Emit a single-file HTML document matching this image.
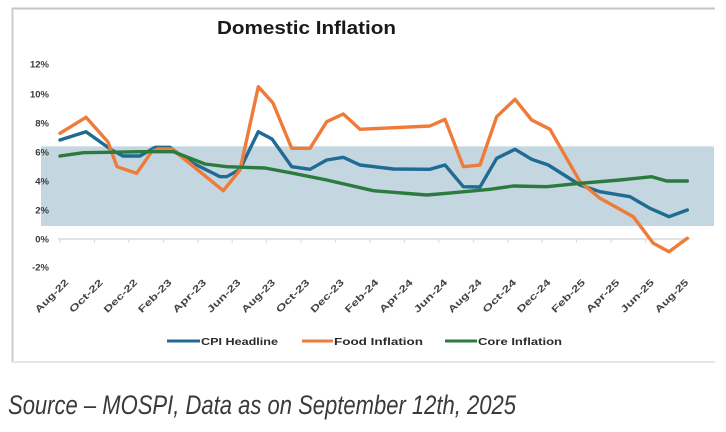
<!DOCTYPE html>
<html>
<head>
<meta charset="utf-8">
<style>
html,body{margin:0;padding:0;background:#fff;}
body{width:726px;height:432px;overflow:hidden;}
svg{display:block;}
</style>
</head>
<body>
<svg width="726" height="432" viewBox="0 0 726 432" xmlns="http://www.w3.org/2000/svg">
  <rect x="0" y="0" width="726" height="432" fill="#ffffff"/>
  <!-- chart frame -->
  <line x1="12" y1="8.5" x2="715" y2="8.5" stroke="#c6c6c6" stroke-width="2"/>
  <line x1="12.5" y1="8" x2="12.5" y2="363" stroke="#cccccc" stroke-width="2"/>
  <line x1="12" y1="362" x2="715" y2="362" stroke="#e6e6e6" stroke-width="2"/>

  <!-- title -->
  <text x="217" y="34" font-family="Liberation Sans, sans-serif" font-weight="bold" font-size="18" fill="#1a1a1a" textLength="179" lengthAdjust="spacingAndGlyphs">Domestic Inflation</text>

  <!-- target band -->
  <rect x="41" y="146" width="673" height="80" fill="#c4d6e0"/>
  <line x1="41" y1="146.5" x2="714" y2="146.5" stroke="#d8e5ec" stroke-width="1"/>

  <!-- y-axis labels -->
  <g font-family="Liberation Sans, sans-serif" font-weight="bold" font-size="9.5" fill="#3a3a3a" text-anchor="end">
    <text x="49" y="67.5">12%</text>
    <text x="49" y="97.5">10%</text>
    <text x="49" y="126.5">8%</text>
    <text x="49" y="155.5">6%</text>
    <text x="49" y="184.5">4%</text>
    <text x="49" y="213.5">2%</text>
    <text x="49" y="242.5">0%</text>
    <text x="49" y="270.5">-2%</text>
  </g>

  <!-- zero axis -->
  <line x1="58" y1="239" x2="690" y2="239" stroke="#d9d9d9" stroke-width="1.5"/>
  <g stroke="#d9d9d9" stroke-width="1">
    <line x1="60" y1="239" x2="60" y2="243"/>
    <line x1="94.4" y1="239" x2="94.4" y2="243"/>
    <line x1="128.9" y1="239" x2="128.9" y2="243"/>
    <line x1="163.3" y1="239" x2="163.3" y2="243"/>
    <line x1="197.8" y1="239" x2="197.8" y2="243"/>
    <line x1="232.2" y1="239" x2="232.2" y2="243"/>
    <line x1="266.7" y1="239" x2="266.7" y2="243"/>
    <line x1="301.1" y1="239" x2="301.1" y2="243"/>
    <line x1="335.6" y1="239" x2="335.6" y2="243"/>
    <line x1="370" y1="239" x2="370" y2="243"/>
    <line x1="404.4" y1="239" x2="404.4" y2="243"/>
    <line x1="438.9" y1="239" x2="438.9" y2="243"/>
    <line x1="473.3" y1="239" x2="473.3" y2="243"/>
    <line x1="507.8" y1="239" x2="507.8" y2="243"/>
    <line x1="542.2" y1="239" x2="542.2" y2="243"/>
    <line x1="576.7" y1="239" x2="576.7" y2="243"/>
    <line x1="611.1" y1="239" x2="611.1" y2="243"/>
    <line x1="645.6" y1="239" x2="645.6" y2="243"/>
    <line x1="680" y1="239" x2="680" y2="243"/>
  </g>

  <!-- x-axis labels -->
  <g font-family="Liberation Sans, sans-serif" font-weight="bold" font-size="9.5" fill="#444" text-anchor="end">
    <text transform="translate(69,283) rotate(-45)" textLength="43" lengthAdjust="spacingAndGlyphs">Aug-22</text>
    <text transform="translate(103.4,283) rotate(-45)" textLength="43" lengthAdjust="spacingAndGlyphs">Oct-22</text>
    <text transform="translate(137.9,283) rotate(-45)" textLength="43" lengthAdjust="spacingAndGlyphs">Dec-22</text>
    <text transform="translate(172.3,283) rotate(-45)" textLength="43" lengthAdjust="spacingAndGlyphs">Feb-23</text>
    <text transform="translate(206.8,283) rotate(-45)" textLength="43" lengthAdjust="spacingAndGlyphs">Apr-23</text>
    <text transform="translate(241.2,283) rotate(-45)" textLength="43" lengthAdjust="spacingAndGlyphs">Jun-23</text>
    <text transform="translate(275.7,283) rotate(-45)" textLength="43" lengthAdjust="spacingAndGlyphs">Aug-23</text>
    <text transform="translate(310.1,283) rotate(-45)" textLength="43" lengthAdjust="spacingAndGlyphs">Oct-23</text>
    <text transform="translate(344.6,283) rotate(-45)" textLength="43" lengthAdjust="spacingAndGlyphs">Dec-23</text>
    <text transform="translate(379,283) rotate(-45)" textLength="43" lengthAdjust="spacingAndGlyphs">Feb-24</text>
    <text transform="translate(413.4,283) rotate(-45)" textLength="43" lengthAdjust="spacingAndGlyphs">Apr-24</text>
    <text transform="translate(447.9,283) rotate(-45)" textLength="43" lengthAdjust="spacingAndGlyphs">Jun-24</text>
    <text transform="translate(482.3,283) rotate(-45)" textLength="43" lengthAdjust="spacingAndGlyphs">Aug-24</text>
    <text transform="translate(516.8,283) rotate(-45)" textLength="43" lengthAdjust="spacingAndGlyphs">Oct-24</text>
    <text transform="translate(551.2,283) rotate(-45)" textLength="43" lengthAdjust="spacingAndGlyphs">Dec-24</text>
    <text transform="translate(585.7,283) rotate(-45)" textLength="43" lengthAdjust="spacingAndGlyphs">Feb-25</text>
    <text transform="translate(620.1,283) rotate(-45)" textLength="43" lengthAdjust="spacingAndGlyphs">Apr-25</text>
    <text transform="translate(654.6,283) rotate(-45)" textLength="43" lengthAdjust="spacingAndGlyphs">Jun-25</text>
    <text transform="translate(689,283) rotate(-45)" textLength="43" lengthAdjust="spacingAndGlyphs">Aug-25</text>
  </g>

  <!-- series -->
  <g fill="none" stroke-width="3.4" stroke-linejoin="round" stroke-linecap="round">
    <polyline stroke="#1f6b94" points="60,140 86,131.7 111.7,150 123,156 140,156 155,147.3 170,147.3 186.7,160 206.7,170 220,176.7 226.7,176.7 240,169.3 258.3,131.7 272,139 291.7,166.7 310,169.3 326.7,160 343.3,157.3 360,165 393.3,169 430,169.3 445,165 463.3,186.7 480,187 496.7,158.3 515,149.3 531.7,159.3 548.3,165 580,185 600,191.7 630,196.7 650,208.3 669,216.7 687.3,210"/>
    <polyline stroke="#f07b38" points="60,133.3 86,117.3 108,142 117,166.7 136.7,173.3 151.7,151.7 158,149 172,149 223.3,190.7 240,170 258.3,86.7 273,103 291.7,148.3 310,148.3 326.7,121.7 343.3,114 360,129.3 430,126 445,119.3 463.3,166.7 480,165 496.7,116.7 515,99.3 531.7,120 550,129.3 580,181.7 600,198.3 633.3,216.7 653.3,243.3 669,251.7 687.3,238.3"/>
    <polyline stroke="#2b7a3e" points="60,156 83.3,152.7 140,151.7 173.3,151.7 205,164 226.7,166.7 265,168 293.3,173.3 326.7,180 373.3,190.7 426.7,195 446.7,193.3 490,189.3 513.3,186 546.7,186.7 580,183.3 620,180 651.7,176.7 666.7,181 687.3,181"/>
  </g>

  <!-- legend -->
  <g stroke-width="3">
    <line x1="167" y1="341" x2="200" y2="341" stroke="#1f6b94"/>
    <line x1="302" y1="341" x2="333" y2="341" stroke="#f07b38"/>
    <line x1="445" y1="341" x2="477" y2="341" stroke="#2b7a3e"/>
  </g>
  <g font-family="Liberation Sans, sans-serif" font-weight="bold" font-size="10" fill="#2a2a2a">
    <text x="201" y="345" textLength="77" lengthAdjust="spacingAndGlyphs">CPI Headline</text>
    <text x="334" y="345" textLength="89" lengthAdjust="spacingAndGlyphs">Food Inflation</text>
    <text x="478" y="345" textLength="84" lengthAdjust="spacingAndGlyphs">Core Inflation</text>
  </g>

  <!-- source -->
  <text x="8" y="414" font-family="Liberation Sans, sans-serif" font-style="italic" font-size="27" fill="#3a3a3a" textLength="508" lengthAdjust="spacingAndGlyphs">Source – MOSPI, Data as on September 12th, 2025</text>
</svg>
</body>
</html>
